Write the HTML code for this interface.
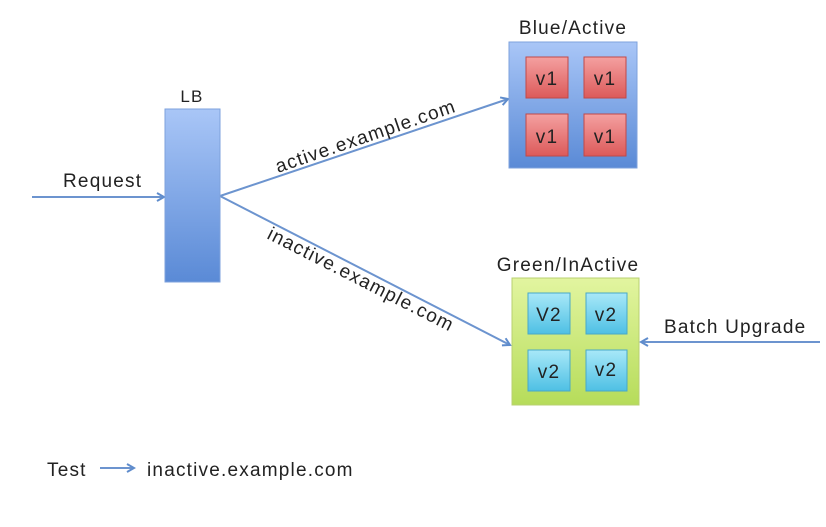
<!DOCTYPE html>
<html><head><style>
html,body{margin:0;padding:0;background:#fff;}
svg text{font-family:"Liberation Sans",sans-serif;fill:#222;font-size:19px;letter-spacing:1.2px;}
</style></head><body>
<svg width="826" height="522" viewBox="0 0 826 522" xmlns="http://www.w3.org/2000/svg">
<defs>
<linearGradient id="gb" x1="0" y1="0" x2="0" y2="1"><stop offset="0" stop-color="#a9c6f7"/><stop offset="1" stop-color="#5a8ad6"/></linearGradient>
<linearGradient id="gr" x1="0" y1="0" x2="0" y2="1"><stop offset="0" stop-color="#f4a0a0"/><stop offset="1" stop-color="#dc5a5a"/></linearGradient>
<linearGradient id="gg" x1="0" y1="0" x2="0" y2="1"><stop offset="0" stop-color="#e2f5a0"/><stop offset="1" stop-color="#b6dc5a"/></linearGradient>
<linearGradient id="gc" x1="0" y1="0" x2="0" y2="1"><stop offset="0" stop-color="#a8e8f8"/><stop offset="1" stop-color="#4ec0e4"/></linearGradient>
<marker id="ar" markerWidth="10" markerHeight="10" refX="8" refY="5" orient="auto" markerUnits="userSpaceOnUse"><path d="M1,1 L8,5 L1,9" fill="none" stroke="#5f8ccc" stroke-width="2"/></marker>
</defs>
<g stroke="#6c94cf" stroke-width="2" fill="none">
<line x1="32" y1="197" x2="164" y2="197" marker-end="url(#ar)"/>
<line x1="220" y1="196" x2="508" y2="99" marker-end="url(#ar)"/>
<line x1="220" y1="196" x2="510" y2="345" marker-end="url(#ar)"/>
<line x1="820" y1="342" x2="641" y2="342" marker-end="url(#ar)"/>
<line x1="100" y1="468" x2="134" y2="468" marker-end="url(#ar)"/>
</g>
<rect x="165" y="109" width="55" height="173" fill="url(#gb)" stroke="#7ea2dc"/>
<text x="192" y="102" style="font-size:17px" text-anchor="middle">LB</text>
<text x="63" y="187">Request</text>
<rect x="509" y="42" width="128" height="126" fill="url(#gb)" stroke="#7ea2dc"/>
<text x="573" y="34" text-anchor="middle">Blue/Active</text>
<g stroke="#c04848" fill="url(#gr)">
<rect x="526" y="57" width="42" height="41"/><rect x="584" y="57" width="42" height="41"/>
<rect x="526" y="114" width="42" height="42"/><rect x="584" y="114" width="42" height="42"/>
</g>
<g text-anchor="middle">
<text x="547" y="85">v1</text><text x="605" y="85">v1</text>
<text x="547" y="143">v1</text><text x="605" y="143">v1</text>
</g>
<rect x="512" y="278" width="127" height="127" fill="url(#gg)" stroke="#b8d070"/>
<text x="568" y="271" text-anchor="middle">Green/InActive</text>
<g stroke="#48a8c8" fill="url(#gc)">
<rect x="528" y="293" width="42" height="41"/><rect x="586" y="293" width="41" height="41"/>
<rect x="528" y="350" width="42" height="41"/><rect x="586" y="350" width="41" height="41"/>
</g>
<g text-anchor="middle">
<text x="549" y="321">V2</text><text x="606" y="321">v2</text>
<text x="549" y="378">v2</text><text x="606" y="376">v2</text>
</g>
<text x="664" y="333">Batch Upgrade</text>
<text transform="translate(278,173) rotate(-19)">active.example.com</text>
<text transform="translate(266,238) rotate(27)">inactive.example.com</text>
<text x="47" y="476">Test</text>
<text x="147" y="476">inactive.example.com</text>
</svg>
</body></html>
